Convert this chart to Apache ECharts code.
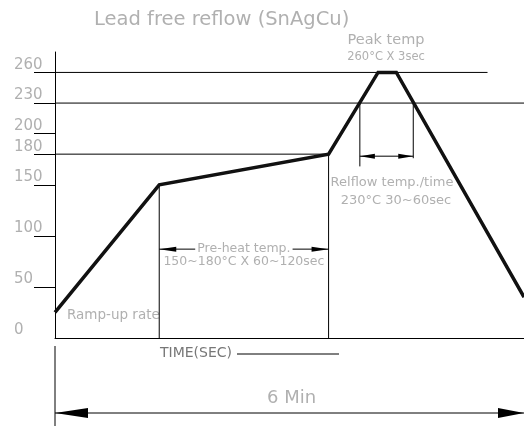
<!DOCTYPE html>
<html>
<head>
<meta charset="utf-8">
<script src="https://cdn.jsdelivr.net/npm/echarts@6/dist/echarts.min.js"></script>
<style>
  html, body { margin: 0; padding: 0; background: #fff; }
  #chart { width: 524px; height: 426px; }
</style>
</head>
<body>
<div id="chart"></div>
<script>
// reflow profile, time in sec / temp in °C
const profileTimes = [0, 80, 210, 248, 262, 360];
const profileTemps = [25, 150, 180, 260, 260, 40];

const yLabels = [0, 50, 100, 150, 180, 200, 230, 260];
const yTicks = [50, 100, 150, 180, 200, 230, 260];

// horizontal guide lines (temp, where they stop)
const guideTemps = [260, 230, 180];
const guideEnds = [332, 360, 210];

// pre-heat window
const preheatTimes = [80, 210];
const preheatTemps = [150, 180];
const preheatArrowTemp = 87;

// reflow window (230°C crossings)
const reflowTimes = [234, 275];
const reflowBottoms = [168, 176];
const reflowArrowTemp = 178;

const totalTime = 360;

const TXT = '#b0b0b0';
const FONT = 'DejaVu Sans';

const seg = (a, b, w) => ({
  type: 'line',
  data: [a, b],
  symbol: 'none',
  silent: true,
  animation: false,
  lineStyle: { color: '#000', width: w || 1 }
});

const series = [];
guideTemps.forEach((v, i) => series.push(seg([0, v], [guideEnds[i], v])));
preheatTimes.forEach((t, i) => series.push(seg([t, 0], [t, preheatTemps[i]])));
reflowTimes.forEach((t, i) => series.push(seg([t, 230], [t, reflowBottoms[i]])));
series.push({
  type: 'line',
  data: profileTimes.map((t, i) => [t, profileTemps[i]]),
  symbol: 'none',
  silent: true,
  animation: false,
  lineStyle: { color: '#111', width: 3.5, join: 'miter' }
});

const chart = echarts.init(document.getElementById('chart'));
chart.setOption({
  animation: false,
  title: {
    text: 'Lead free reflow (SnAgCu)',
    left: 89, top: 5,
    textStyle: { fontFamily: FONT, fontWeight: 'normal', fontSize: 19.5, color: TXT }
  },
  grid: { left: 55, right: 0, top: 52, bottom: 88 },
  xAxis: {
    type: 'value', min: 0, max: totalTime,
    axisLine: { lineStyle: { color: '#000', width: 1 } },
    axisTick: { show: false }, axisLabel: { show: false }, splitLine: { show: false }
  },
  yAxis: {
    type: 'value', min: 0, max: 280,
    axisLine: { show: true, lineStyle: { color: '#000', width: 1 } },
    axisTick: { show: true, length: 21, customValues: yTicks, lineStyle: { color: '#000' } },
    axisLabel: {
      customValues: yLabels, align: 'left', verticalAlign: 'bottom', margin: 41,
      fontFamily: FONT, fontSize: 15, color: TXT
    },
    splitLine: { show: false }
  },
  series: series
});

// annotations, placed through the axis scales
const P = (t, v) => chart.convertToPixel({ gridIndex: 0 }, [t, v]);
const line = (x1, y1, x2, y2) => ({
  type: 'line', silent: true,
  shape: { x1: x1, y1: y1, x2: x2, y2: y2 },
  style: { stroke: '#000', lineWidth: 1 }
});
const head = (x, y, dir, len, half) => ({
  type: 'polygon', silent: true,
  shape: { points: [[x, y], [x + dir * len, y - half], [x + dir * len, y + half]] },
  style: { fill: '#000' }
});
const text = (str, x, y, size, align, color) => ({
  type: 'text', silent: true, x: x, y: y,
  style: {
    text: str, fontFamily: FONT, fontSize: size,
    fill: color || TXT, align: align || 'left', verticalAlign: 'middle'
  }
});

const g = [];

// pre-heat arrow
const pa = P(preheatTimes[0], preheatArrowTemp), pb = P(preheatTimes[1], preheatArrowTemp);
const pmid = (pa[0] + pb[0]) / 2;
g.push(line(pa[0], pa[1], pa[0] + 36, pa[1]), line(pb[0] - 36, pb[1], pb[0], pb[1]));
g.push(head(pa[0], pa[1], 1, 17, 2.5), head(pb[0], pb[1], -1, 17, 2.5));
g.push(text('Pre-heat temp.', pmid, pa[1], 12.5, 'center'));
g.push(text('150~180°C X 60~120sec', pmid, pa[1] + 13, 12.5, 'center'));

// reflow arrow
const ra = P(reflowTimes[0], reflowArrowTemp), rb = P(reflowTimes[1], reflowArrowTemp);
g.push(line(ra[0], ra[1], rb[0], rb[1]));
g.push(head(ra[0], ra[1], 1, 15, 2.5), head(rb[0], rb[1], -1, 15, 2.5));
g.push(text('Relflow temp./time', 392, 183, 13, 'center'));
g.push(text('230°C 30~60sec', 396, 201, 13, 'center'));

// peak
g.push(text('Peak temp', 386, 40, 14.5, 'center'));
g.push(text('260°C X 3sec', 386, 57, 11.5, 'center'));

g.push(text('Ramp-up rate', 67, 315, 13.5, 'left'));

// time span below the chart
const t0 = P(0, 0), t1 = P(totalTime, 0);
g.push(line(t0[0], 346, t0[0], 426));
g.push(text('TIME(SEC)', 160, 353, 14, 'left', '#777'));
g.push(line(237, 354, 339, 354));
g.push(line(t0[0], 413, t1[0], 413));
g.push(head(t0[0], 413, 1, 33, 5), head(t1[0], 413, -1, 26, 5));
g.push(text('6 Min', 267, 398, 18, 'left'));

chart.setOption({ graphic: g });
</script>
</body>
</html>
